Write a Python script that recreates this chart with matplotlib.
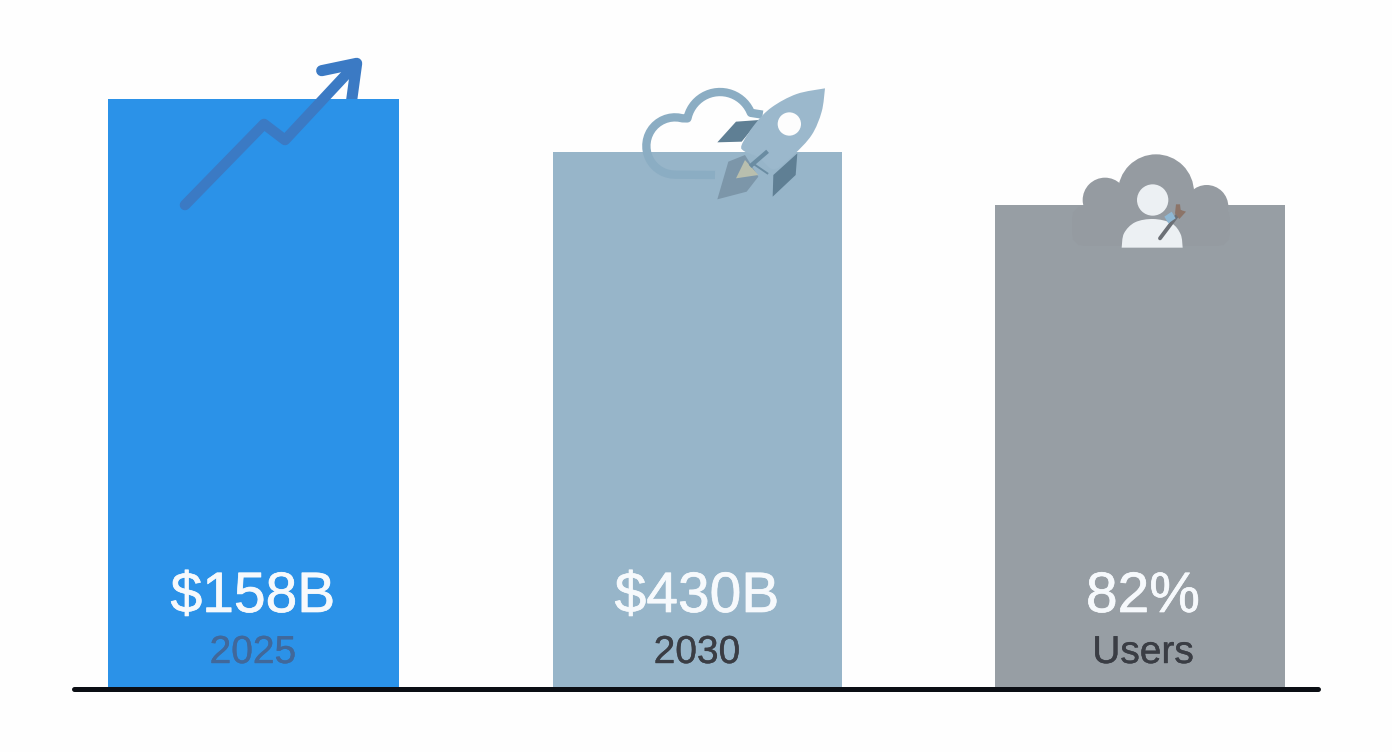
import numpy as np
import matplotlib
matplotlib.use("Agg")
import matplotlib.pyplot as plt
import matplotlib.patheffects as pe
from matplotlib.patches import Circle, Polygon, PathPatch, FancyBboxPatch
from matplotlib.path import Path

# ---- chart data ----
categories = ["2025", "2030", "Users"]
value_labels = ["$158B", "$430B", "82%"]
bar_heights = [589, 536, 483]          # drawn height
bar_centers = [253.5, 697, 1140]
bar_widths = [291, 289, 290]
bar_colors = ["#2B92E8", "#97B5C9", "#979EA4"]
category_colors = ["#41689A", "#3A3D44", "#3A3D44"]
label_centers = [253, 697, 1143]

BASE = 688  # pixel row of baseline
W, H = 1392, 752

plt.rcParams["font.family"] = ["Liberation Sans", "DejaVu Sans"]
fig = plt.figure(figsize=(W / 100, H / 100), dpi=100, facecolor="#FEFEFE")
ax = fig.add_axes([0, 0, 1, 1])
ax.set_xlim(0, W)
ax.set_ylim(BASE - H, BASE)
ax.axis("off")


def P(px, py):
    return (px, BASE - py)


def Z(origin, pts):
    ox, oy = origin
    return [P(ox + x / 3, oy + y / 3) for x, y in pts]


def arc(cx, cy, r, a0, a1, n=24):
    """Points of a circular arc in screen-style coordinates (y down)."""
    t = np.radians(np.linspace(a0, a1, n))
    return [(cx + r * np.cos(a), cy + r * np.sin(a)) for a in t]


def smooth(pts, **kw):
    verts = [pts[0]]
    codes = [Path.MOVETO]
    n = len(pts)
    for i in range(n - 1):
        p0 = pts[max(i - 1, 0)]
        p1 = pts[i]
        p2 = pts[i + 1]
        p3 = pts[min(i + 2, n - 1)]
        c1 = (p1[0] + (p2[0] - p0[0]) / 6, p1[1] + (p2[1] - p0[1]) / 6)
        c2 = (p2[0] - (p3[0] - p1[0]) / 6, p2[1] - (p3[1] - p1[1]) / 6)
        verts += [c1, c2, p2]
        codes += [Path.CURVE4] * 3
    return PathPatch(Path(verts, codes), **kw)


# ---- icon part behind bar ----
arrow_c = "#3B7AC4"
o1 = (160, 50)
head = Z(o1, [(485, 62), (590, 40), (573, 165)])
ax.plot(*zip(*head), color=arrow_c, lw=8.0, solid_capstyle="round",
        solid_joinstyle="round", zorder=1)

# ---- bars ----
ax.bar(bar_centers, bar_heights, width=bar_widths, color=bar_colors,
       bottom=0, linewidth=0, zorder=2)
ax.plot([74, 1318], [-0.5, -0.5], color="#0B0E14", lw=3.6, solid_capstyle="round", zorder=5)

# ---- icon 1: arrow shaft ----
shaft = Z(o1, [(75, 465), (312, 222), (375, 270), (585, 45)])
ax.plot(*zip(*shaft), color=arrow_c, lw=7.6, solid_capstyle="round",
        solid_joinstyle="round", zorder=3)

# ---- icon 2: cloud + rocket ----
o2 = (630, 80)
ring = [(255, 285)] + arc(135, 198, 86, 90, 285) + arc(270, 136, 100, 192, 338) + [(398, 104)]
ax.plot(*zip(*Z(o2, ring)), color="#8BADC3", lw=6.0, solid_capstyle="butt",
        solid_joinstyle="round", zorder=3)

ax.add_patch(Polygon(Z(o2, [(262, 187), (318, 125), (388, 120), (335, 185)]),
                     color="#5F7F94", lw=0, zorder=3))
ax.add_patch(Polygon(Z(o2, [(428, 350), (430, 285), (502, 220), (497, 285)]),
                     color="#5F7F94", lw=0, zorder=3))
ax.add_patch(Polygon(Z(o2, [(262, 358), (295, 245), (345, 225), (385, 290), (350, 335)]),
                     color="#7C96A9", lw=0, zorder=3))
ax.add_patch(Polygon(Z(o2, [(318, 295), (345, 240), (385, 285)]),
                     color="#B9BFAE", lw=0, zorder=3.1))
ax.plot(*zip(*Z(o2, [(365, 255), (408, 218)])), color="#6A8CA2", lw=3.0, zorder=4.2)
ax.plot(*zip(*Z(o2, [(368, 250), (412, 280)])), color="#6A8CA2", lw=1.4, zorder=3.2)

body = Z(o2, [(585, 25), (500, 42), (425, 82), (375, 132), (335, 195), (345, 215), (385, 232),
              (432, 268), (490, 225), (545, 165), (575, 95), (585, 25)])
ax.add_patch(smooth(body, fc="#9BB8CC", ec="none", zorder=4))
ax.add_patch(Circle(Z(o2, [(478, 132)])[0], 35 / 3, color="#FDFDFD", lw=0, zorder=4.1))

# ---- icon 3: cloud + person + brush ----
o3 = (1060, 145)
cloud3 = "#959BA1"
for (x, y, r) in [(288, 142, 114), (135, 165, 67), (440, 185, 65)]:
    ax.add_patch(Circle(P(o3[0] + x / 3, o3[1] + y / 3), r / 3, color=cloud3, lw=0, zorder=2.5))
ax.add_patch(FancyBboxPatch(P(1082, 236), 138, 20, boxstyle="round,pad=0,rounding_size=2",
                            fc=cloud3, ec=cloud3, lw=14, zorder=2.4))
ax.add_patch(Circle(Z(o3, [(278, 165)])[0], 47 / 3, color="#ECF0F3", lw=0, zorder=3))
sh = Z(o3, [(185, 308), (192, 265), (225, 232), (280, 222), (335, 235), (362, 268), (368, 308)])
ax.add_patch(smooth(sh, fc="#ECF0F3", ec="none", zorder=3))
ax.plot(*zip(*Z(o3, [(300, 280), (360, 200)])), color="#6C7076", lw=2.8,
        solid_capstyle="round", zorder=3.2)
ax.add_patch(Polygon(Z(o3, [(313, 215), (335, 200), (347, 220), (325, 235)]),
                     color="#8FB8D4", lw=0, zorder=3.3))
ax.add_patch(Polygon(Z(o3, [(345, 205), (348, 178), (360, 178), (362, 195), (378, 200), (358, 222)]),
                     color="#8C7468", lw=0, zorder=3.3))

# ---- labels ----
value_base = 612
cat_base = 663
for c, v, t, col in zip(label_centers, value_labels, categories, category_colors):
    ax.text(c, BASE - value_base, v, ha="center", va="baseline", fontsize=41,
            color="#F6F9FC", zorder=6,
            path_effects=[pe.withStroke(linewidth=0.5, foreground="#F6F9FC")])
    ax.text(c, BASE - cat_base, t, ha="center", va="baseline", fontsize=28, color=col, zorder=6,
            path_effects=[pe.withStroke(linewidth=0.3, foreground=col)])

fig.savefig("out.png", dpi=100, facecolor=fig.get_facecolor())
